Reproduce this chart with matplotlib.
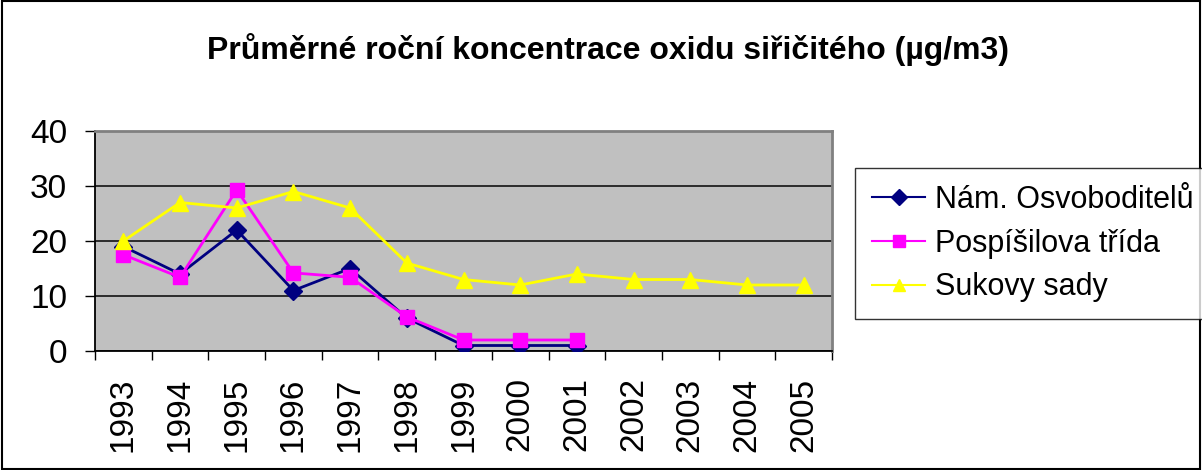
import matplotlib.pyplot as plt
import numpy as np

years = ["1993", "1994", "1995", "1996", "1997", "1998", "1999",
         "2000", "2001", "2002", "2003", "2004", "2005"]
nam_osvoboditelu = [19, 14, 22, 11, 15, 6, 1, 1, 1]
pospisilova = [17.5, 13.4, 29.3, 14.2, 13.4, 6.2, 2, 2, 2]
sukovy_sady = [20, 27, 26, 29, 26, 16, 13, 12, 14, 13, 13, 12, 12]

plt.rcParams["font.family"] = ["Liberation Sans", "DejaVu Sans"]

fig = plt.figure(figsize=(12.02, 4.70), dpi=100)
fig.patches.append(plt.Rectangle((0.002, 0.002), 0.996, 0.995, transform=fig.transFigure,
                                 fill=False, edgecolor="black", linewidth=1.5))

ax = fig.add_axes([95 / 1202, 1 - 351 / 470, 737 / 1202, 220 / 470])
ax.set_facecolor("#C0C0C0")

ax.plot(range(len(nam_osvoboditelu)), nam_osvoboditelu, color="#000080", lw=2,
        marker="D", ms=9, label="Nám. Osvoboditelů", zorder=3)
ax.plot(range(len(pospisilova)), pospisilova, color="#FF00FF", lw=2,
        marker="s", ms=10, label="Pospíšilova třída", zorder=3)
ax.plot(range(len(sukovy_sady)), sukovy_sady, color="#FFFF00", lw=2,
        marker="^", ms=12, label="Sukovy sady", zorder=3)

ax.set_xlim(-0.5, len(years) - 0.5)
ax.set_ylim(0, 40)
ax.set_yticks([0, 10, 20, 30, 40])
ax.yaxis.grid(True, color="#202020", lw=1.3)
ax.set_axisbelow(True)
ax.tick_params(axis="y", labelsize=24, length=7, width=1, pad=13)

ax.set_xticks(np.arange(-0.5, len(years)), labels=[])
ax.set_xticks(range(len(years)), labels=years, minor=True)
ax.tick_params(axis="x", which="major", length=6.5, width=1)
ax.tick_params(axis="x", which="minor", length=0, labelsize=24, rotation=90, pad=19)

for side in ("top", "right"):
    ax.spines[side].set_color("#808080")
    ax.spines[side].set_linewidth(2)
for side in ("left", "bottom"):
    ax.spines[side].set_color("black")
    ax.spines[side].set_linewidth(1.3)

fig.text(0.506, 0.894, "Průměrné roční koncentrace oxidu siřičitého (µg/m3)",
         ha="center", va="center", fontsize=23, fontweight="bold")

leg = fig.legend(loc="upper left", bbox_to_anchor=(855 / 1202, 1 - 168 / 470),
                 fontsize=22, frameon=True, fancybox=False, edgecolor="black",
                 handlelength=1.75, handletextpad=0.32, borderpad=0.55,
                 labelspacing=0.45, borderaxespad=0)
leg.get_frame().set_linewidth(1)
for h in leg.legend_handles:
    h.set_linewidth(1.5)
    h.set_markersize(8)

fig.savefig("out.png", dpi=100)
